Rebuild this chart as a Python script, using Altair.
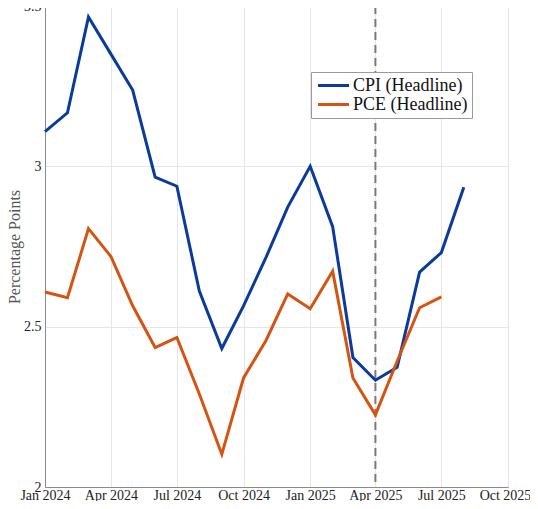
import altair as alt
import pandas as pd

months = ["2024-01-01", "2024-02-01", "2024-03-01", "2024-04-01", "2024-05-01",
          "2024-06-01", "2024-07-01", "2024-08-01", "2024-09-01", "2024-10-01",
          "2024-11-01", "2024-12-01", "2025-01-01", "2025-02-01", "2025-03-01",
          "2025-04-01", "2025-05-01", "2025-06-01", "2025-07-01", "2025-08-01"]
cpi = [3.108, 3.167, 3.466, 3.350, 3.238, 2.966, 2.938, 2.611, 2.432, 2.565,
       2.716, 2.873, 3.000, 2.812, 2.404, 2.333, 2.373, 2.670, 2.731, 2.935]
pce = [2.608, 2.590, 2.806, 2.719, 2.565, 2.435, 2.466, 2.290, 2.102, 2.340,
       2.457, 2.602, 2.556, 2.673, 2.340, 2.225, 2.392, 2.559, 2.593]
series_names = ["CPI (Headline)", "PCE (Headline)"]
series_colors = ["#0a3a9c", "#d55412"]
x_tick_dates = [(2024, 1), (2024, 4), (2024, 7), (2024, 10),
                (2025, 1), (2025, 4), (2025, 7), (2025, 10)]
y_ticks = [2, 2.5, 3, 3.5]
x_domain = [(2024, 1), (2025, 10)]
marker_dates = ["2025-04-01"]
y_title = "Percentage Points"

rows = []
for m, v in zip(months, cpi):
    rows.append({"date": m, "value": v, "series": series_names[0]})
for m, v in zip(months, pce):
    rows.append({"date": m, "value": v, "series": series_names[1]})
df = pd.DataFrame(rows)
marker_df = pd.DataFrame({"date": marker_dates})

FONT = "Liberation Serif"

x_scale = alt.Scale(type="utc",
                    domain=[alt.DateTime(year=y, month=m, date=1, utc=True) for y, m in x_domain])
x_axis = alt.Axis(values=[alt.DateTime(year=y, month=m, date=1, utc=True) for y, m in x_tick_dates],
                  format="%b %Y", title=None, labelFont=FONT, labelFontSize=14,
                  labelColor="#222222", ticks=False, labelPadding=1,
                  labelOffset={"condition": {"test": "datum.index == 1", "value": -3}, "value": 0},
                  domainColor="#8a8a8a", gridColor="#e6e6e6", labelFlush=False,
                  labelOverlap=False)
y_axis = alt.Axis(values=y_ticks, format="~g", title=y_title, labelFont=FONT,
                  labelFontSize=14, labelColor="#222222", ticks=False, labelPadding=4,
                  titleFont=FONT, titleFontSize=16, titleFontWeight="normal",
                  titleColor="#555555", titlePadding=1, domainColor="#8a8a8a",
                  gridColor="#e6e6e6")

lines = alt.Chart(df).mark_line(strokeWidth=3).encode(
    x=alt.X("date:T", scale=x_scale, axis=x_axis),
    y=alt.Y("value:Q", scale=alt.Scale(domain=[2, 3.5]), axis=y_axis),
    color=alt.Color("series:N",
                    scale=alt.Scale(domain=series_names, range=series_colors),
                    legend=alt.Legend(title=None, orient="none", legendX=266, legendY=66,
                                      labelFont=FONT, labelFontSize=18, labelColor="#111111",
                                      symbolType="M-2,0H2", symbolSize=240, symbolOffset=9,
                                      symbolStrokeWidth=3, fillColor="white",
                                      strokeColor="#9a9a9a", padding=4, rowPadding=0,
                                      labelOffset=10)),
)

rule = alt.Chart(marker_df).mark_rule(color="#7a7a7a", strokeWidth=2,
                                      strokeDash=[8, 5]).encode(
    x=alt.X("date:T", scale=x_scale)
)

chart = alt.layer(rule, lines).properties(
    width=463, height=481,
    autosize=alt.AutoSizeParams(type="none"),
    padding={"left": 37, "top": -2, "right": 22, "bottom": 14},
    background="white",
).configure_view(stroke="#8a8a8a", strokeWidth=1).configure_axis(grid=True)

chart.save("out.html", embed_options={"renderer": "svg", "actions": False})
